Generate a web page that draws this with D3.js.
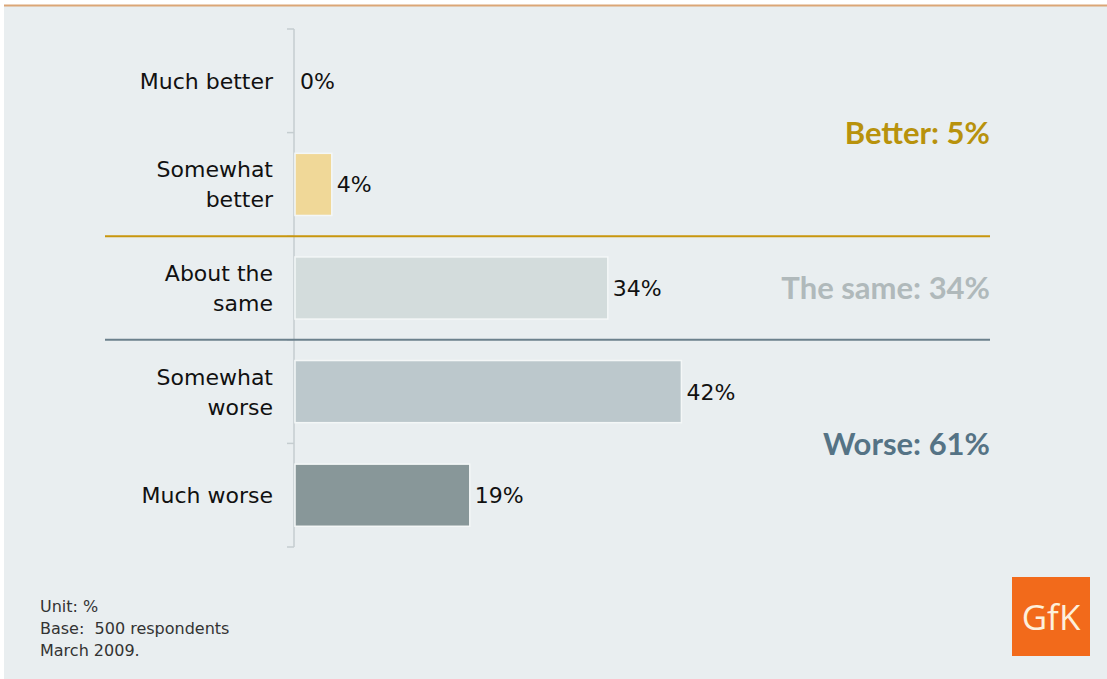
<!DOCTYPE html>
<html>
<head>
<meta charset="utf-8">
<script src="https://cdn.jsdelivr.net/npm/d3@7"></script>
<style>
  body { margin: 0; background: #fff; }
  svg { display: block; }
</style>
</head>
<body>
<svg></svg>
<script>
var width = 1107,
    height = 679

// chart values
var categories = ["Much better", "Somewhat better", "About the same", "Somewhat worse", "Much worse"];
var labelLines = [["Much better"], ["Somewhat", "better"], ["About the", "same"], ["Somewhat", "worse"], ["Much worse"]];
var values = [0, 4, 34, 42, 19];
var barColors = ["#f0d898", "#f0d898", "#d3dcdc", "#bcc8cc", "#889799"];

var groupLabels = ["Better: 5%", "The same: 34%", "Worse: 61%"];
var groupFirst = [0, 2, 3];
var groupLast = [1, 2, 4];
var groupColors = ["#b8920c", "#b0b9bb", "#557385"];
var dividerColors = ["#c8960e", "#6b808c"];

var notes = ["Unit: %", "Base:  500 respondents", "March 2009."];

var svg = d3.select("svg")
    .attr("width", width)
    .attr("height", height);

// panel background and top rule
svg.append("rect")
    .attr("x", 4).attr("y", 6)
    .attr("width", width - 4).attr("height", height - 6)
    .attr("fill", "#e9eef0");

svg.append("line")
    .attr("x1", 4).attr("x2", width)
    .attr("y1", 5.5).attr("y2", 5.5)
    .attr("stroke", "#dba676")
    .attr("stroke-width", 2);

var x = d3.scaleLinear()
    .domain([0, 100])
    .range([294, 1214]);

var y = d3.scaleBand()
    .domain(categories)
    .range([29, 547])
    .paddingInner(0.4)
    .paddingOuter(0.2);

var step = y.step();

// axis line with ticks on category boundaries
var g = svg.append("g");
g.append("line")
    .attr("x1", x(0)).attr("x2", x(0))
    .attr("y1", 29).attr("y2", 547)
    .attr("stroke", "#c5cdd0")
    .attr("stroke-width", 1.5);

g.selectAll(".tick")
    .data(d3.range(categories.length + 1))
    .enter()
    .append("line")
    .attr("x1", x(0) - 7).attr("x2", x(0))
    .attr("y1", function (d) { return 29 + d * step; })
    .attr("y2", function (d) { return 29 + d * step; })
    .attr("stroke", "#c5cdd0")
    .attr("stroke-width", 1.5);

// dividers between groups
svg.selectAll(".divider")
    .data(dividerColors)
    .enter()
    .append("line")
    .attr("x1", 105).attr("x2", 990)
    .attr("y1", function (d, i) { return 29 + (groupLast[i] + 1) * step; })
    .attr("y2", function (d, i) { return 29 + (groupLast[i] + 1) * step; })
    .attr("stroke", function (d) { return d; })
    .attr("stroke-width", 2);

// bars
svg.selectAll(".bar")
    .data(values)
    .enter()
    .append("rect")
    .attr("x", x(0) + 1)
    .attr("y", function (d, i) { return y(categories[i]); })
    .attr("width", function (d) { return Math.max(0, x(d) - x(0)); })
    .attr("height", y.bandwidth())
    .attr("fill", function (d, i) { return barColors[i]; })
    .attr("stroke", "#f4f7f7")
    .attr("stroke-width", function (d) { return d > 0 ? 1.5 : 0; });

// value labels
svg.selectAll(".value")
    .data(values)
    .enter()
    .append("text")
    .attr("x", function (d) { return x(d) + 6; })
    .attr("y", function (d, i) { return y(categories[i]) + y.bandwidth() / 2; })
    .attr("dy", "0.36em")
    .attr("font-family", "DejaVu Sans")
    .attr("font-size", 22)
    .attr("fill", "#111")
    .text(function (d) { return d + "%"; });

// category labels
var cat = svg.selectAll(".cat")
    .data(labelLines)
    .enter()
    .append("text")
    .attr("text-anchor", "end")
    .attr("font-family", "DejaVu Sans")
    .attr("font-size", 22)
    .attr("fill", "#111");

cat.selectAll("tspan")
    .data(function (d, i) {
        return d.map(function (t, j) { return { t: t, j: j, n: d.length, i: i }; });
    })
    .enter()
    .append("tspan")
    .attr("x", 273)
    .attr("y", function (d) {
        var c = y(categories[d.i]) + y.bandwidth() / 2;
        return c + (d.j - (d.n - 1) / 2) * 30;
    })
    .attr("dy", "0.36em")
    .text(function (d) { return d.t; });

// group totals
svg.selectAll(".group")
    .data(groupLabels)
    .enter()
    .append("text")
    .attr("x", 990)
    .attr("y", function (d, i) {
        var a = y(categories[groupFirst[i]]) + y.bandwidth() / 2;
        var b = y(categories[groupLast[i]]) + y.bandwidth() / 2;
        return (a + b) / 2;
    })
    .attr("dy", "0.36em")
    .attr("text-anchor", "end")
    .attr("font-family", "Lato")
    .attr("font-weight", "bold")
    .attr("font-size", 31)
    .attr("fill", function (d, i) { return groupColors[i]; })
    .text(function (d) { return d; });

// footnotes
svg.selectAll(".note")
    .data(notes)
    .enter()
    .append("text")
    .attr("x", 40)
    .attr("y", function (d, i) { return 612 + i * 22; })
    .attr("font-family", "DejaVu Sans")
    .attr("font-size", 16)
    .attr("fill", "#333")
    .style("white-space", "pre")
    .text(function (d) { return d; });

// logo
svg.append("rect")
    .attr("x", 1012).attr("y", 577)
    .attr("width", 78).attr("height", 79)
    .attr("fill", "#f26a1b");

svg.append("text")
    .attr("x", 1051).attr("y", 617)
    .attr("dy", "0.36em")
    .attr("text-anchor", "middle")
    .attr("font-family", "Open Sans")
    .attr("font-size", 35)
    .attr("fill", "#fdf0dc")
    .text("GfK");
</script>
</body>
</html>
